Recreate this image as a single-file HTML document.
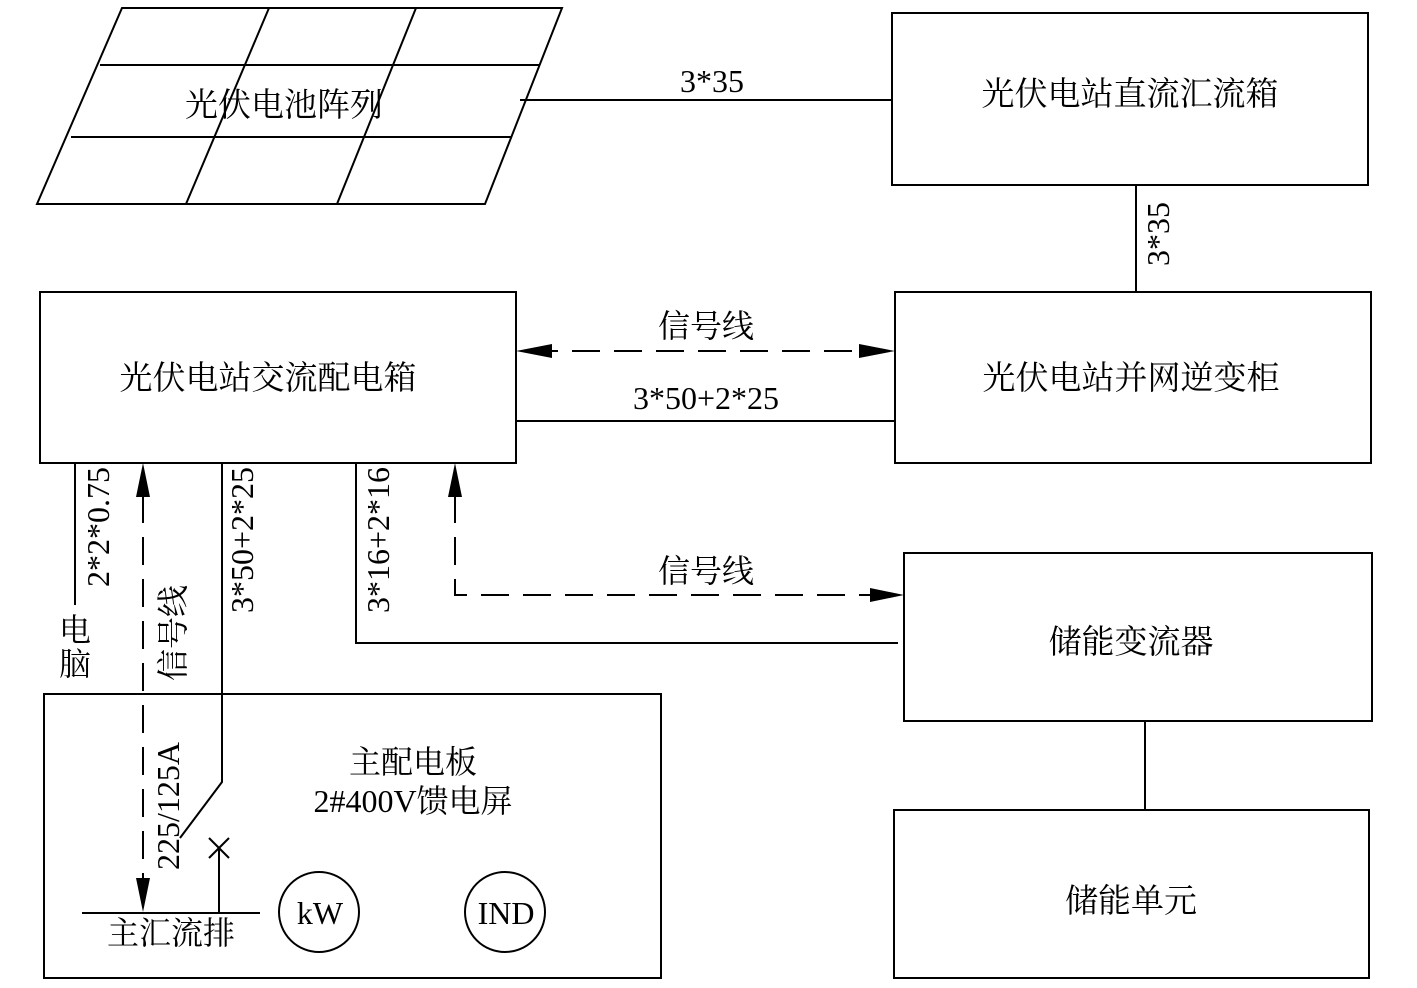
<!DOCTYPE html>
<html><head><meta charset="utf-8"><style>body{margin:0;background:#fff}svg{display:block}text{font-family:"Liberation Serif","Noto Serif CJK SC",serif;fill:#000;font-size:32px}.b{font-size:33px}</style></head>
<body>
<svg width="1417" height="988" viewBox="0 0 1417 988" xmlns="http://www.w3.org/2000/svg">
<g stroke="#000" stroke-width="2" fill="none">
<path d="M122,8L562,8L485,204L37,204Z"/>
<line x1="100" y1="65" x2="540" y2="65"/><line x1="71" y1="137" x2="512" y2="137"/>
<line x1="269" y1="8" x2="186" y2="204"/><line x1="416" y1="8" x2="337" y2="204"/>
<rect x="892" y="13" width="476" height="172"/>
<rect x="895" y="292" width="476" height="171"/>
<rect x="40" y="292" width="476" height="171"/>
<rect x="904" y="553" width="468" height="168"/>
<rect x="894" y="810" width="475" height="168"/>
<rect x="44" y="694" width="617" height="284"/>
<line x1="520" y1="100" x2="892" y2="100"/>
<line x1="1136" y1="185" x2="1136" y2="292"/>
<line x1="516" y1="421" x2="895" y2="421"/>
<polyline points="356,463 356,643 898,643"/>
<line x1="1145" y1="721" x2="1145" y2="810"/>
<line x1="75" y1="463" x2="75" y2="605"/>
<polyline points="222,463 222,782 180,838"/>
<line x1="219" y1="912" x2="219" y2="848"/>
<line x1="209" y1="838" x2="229" y2="858"/><line x1="229" y1="838" x2="209" y2="858"/>
<line x1="82" y1="913" x2="260" y2="913"/>
<circle cx="319" cy="912" r="40"/><circle cx="505" cy="912" r="40"/>
<g stroke-dasharray="28,14">
<line x1="530" y1="351" x2="880" y2="351"/>
<line x1="143" y1="495" x2="143" y2="880"/>
<polyline points="455,495 455,595 890,595"/>
</g>
</g>
<g fill="#000">
<path d="M516,351L552,344L552,358Z"/><path d="M895,351L859,344L859,358Z"/>
<path d="M143,463L136,497L150,497Z"/><path d="M143,912L136,878L150,878Z"/>
<path d="M455,463L448,497L462,497Z"/><path d="M904,595L870,588L870,602Z"/>
</g>
<text class="b" x="284" y="116" text-anchor="middle">光伏电池阵列</text>
<text x="712" y="92" text-anchor="middle">3*35</text>
<text class="b" x="1130" y="105" text-anchor="middle">光伏电站直流汇流箱</text>
<text class="b" x="1131" y="389" text-anchor="middle">光伏电站并网逆变柜</text>
<text class="b" x="268" y="389" text-anchor="middle">光伏电站交流配电箱</text>
<text x="706" y="337" text-anchor="middle">信号线</text>
<text x="706" y="409" text-anchor="middle">3*50+2*25</text>
<text x="706" y="582" text-anchor="middle">信号线</text>
<text class="b" x="1131" y="653" text-anchor="middle">储能变流器</text>
<text class="b" x="1131" y="912" text-anchor="middle">储能单元</text>
<text x="413" y="773" text-anchor="middle">主配电板</text>
<text x="413" y="812" text-anchor="middle">2#400V馈电屏</text>
<text x="171" y="944" text-anchor="middle">主汇流排</text>
<text x="320" y="924" text-anchor="middle">kW</text>
<text x="506" y="924" text-anchor="middle">IND</text>
<text x="75" y="641" text-anchor="middle">电</text>
<text x="75" y="675" text-anchor="middle">脑</text>
<text transform="translate(1169,234) rotate(-90)" text-anchor="middle">3*35</text>
<text transform="translate(109,527) rotate(-90)" text-anchor="middle">2*2*0.75</text>
<text transform="translate(184,633) rotate(-90)" text-anchor="middle">信号线</text>
<text transform="translate(253,540) rotate(-90)" text-anchor="middle">3*50+2*25</text>
<text transform="translate(389,540) rotate(-90)" text-anchor="middle">3*16+2*16</text>
<text transform="translate(179,806) rotate(-90)" text-anchor="middle">225/125A</text>
</svg>
</body></html>
